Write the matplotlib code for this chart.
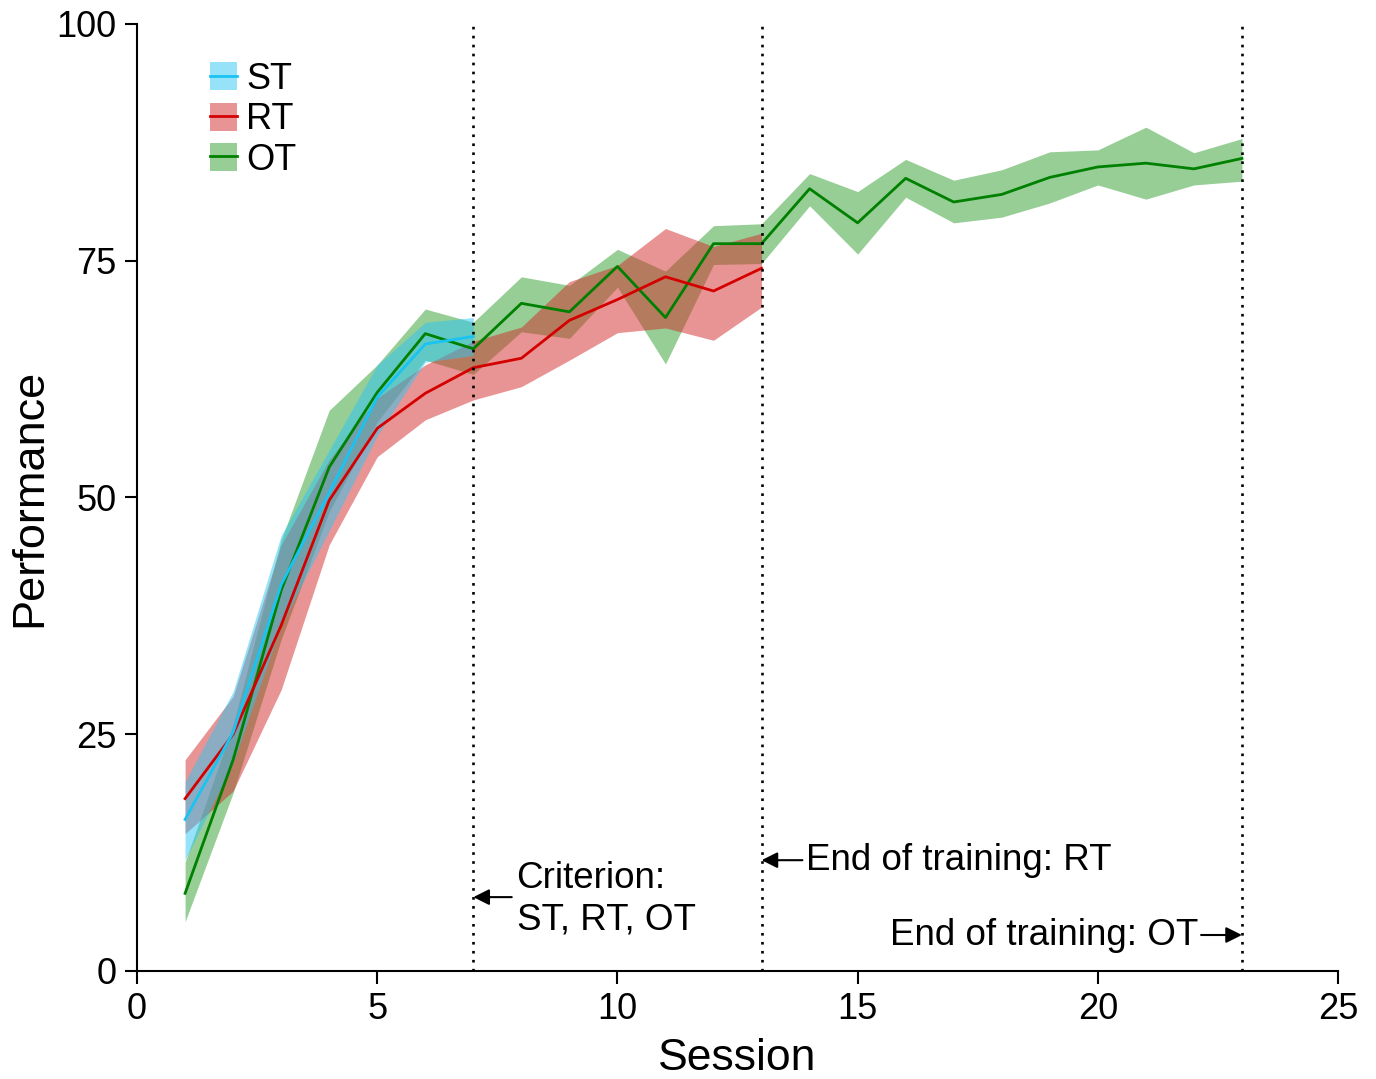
import matplotlib.pyplot as plt
from matplotlib.patches import Patch
from matplotlib.lines import Line2D

plt.rcParams['font.family'] = ['Liberation Sans', 'DejaVu Sans']

# ST: sesiones 1-7
st_sessions = [1, 2, 3, 4, 5, 6, 7]
st_mean = [16.0, 25.2, 40.8, 50.5, 60.6, 66.2, 67.0]
st_low = [11.7, 22.0, 36.5, 46.5, 56.5, 64.3, 65.0]
st_high = [20.0, 29.5, 46.0, 55.0, 64.0, 68.5, 69.0]

# RT: sesiones 1-13
rt_sessions = list(range(1, 14))
rt_mean = [18.2, 25.0, 36.5, 49.7, 57.3, 61.0, 63.7, 64.7, 68.7, 70.9, 73.3, 71.8, 74.2]
rt_low = [14.5, 19.0, 29.7, 45.0, 54.3, 58.2, 60.3, 61.7, 64.5, 67.4, 67.9, 66.6, 70.1]
rt_high = [22.3, 29.0, 45.0, 54.0, 60.5, 64.0, 66.5, 68.0, 72.8, 74.5, 78.4, 76.5, 77.9]

# OT: sesiones 1-23
ot_sessions = list(range(1, 24))
ot_mean = [8.2, 22.3, 40.2, 53.2, 61.1, 67.3, 65.7, 70.5, 69.6, 74.4, 69.0, 76.8,
           76.8, 82.6, 79.0, 83.7, 81.2, 82.0, 83.8, 84.9, 85.3, 84.7, 85.8]
ot_low = [5.2, 18.8, 35.0, 48.5, 58.0, 64.5, 63.0, 67.5, 66.8, 72.2, 64.1, 74.6,
          74.7, 80.8, 75.7, 81.7, 79.0, 79.6, 81.1, 83.0, 81.5, 83.0, 83.4]
ot_high = [11.5, 26.0, 45.5, 59.2, 64.0, 69.9, 68.5, 73.3, 72.4, 76.2, 73.9, 78.7,
           78.9, 84.2, 82.3, 85.7, 83.5, 84.6, 86.5, 86.7, 89.1, 86.4, 87.9]

# fin de cada fase
hitos = [7, 13, 23]

st_line, st_fill = '#19c3f2', '#2ec6f5'
rt_line, rt_fill = '#d40000', '#d42a2a'
ot_line, ot_fill = '#008000', '#2e9e2e'

fig = plt.figure(figsize=(13.76, 10.79), dpi=100)
ax = fig.add_axes([0.0996, 0.1001, 0.8728, 0.8777])

# orden: OT abajo, RT en medio, ST arriba
ax.fill_between(ot_sessions, ot_low, ot_high, color=ot_fill, alpha=0.5, lw=0)
ax.plot(ot_sessions, ot_mean, color=ot_line, lw=2)
ax.fill_between(rt_sessions, rt_low, rt_high, color=rt_fill, alpha=0.5, lw=0)
ax.plot(rt_sessions, rt_mean, color=rt_line, lw=2)
ax.fill_between(st_sessions, st_low, st_high, color=st_fill, alpha=0.5, lw=0)
ax.plot(st_sessions, st_mean, color=st_line, lw=2)

for h in hitos:
    ax.axvline(h, color='k', lw=1.9, linestyle=(0, (1, 2.4)))

ax.set_xlim(0, 25)
ax.set_ylim(0, 100)
ax.set_xticks([0, 5, 10, 15, 20, 25])
ax.set_yticks([0, 25, 50, 75, 100])
ax.tick_params(labelsize=26, length=9, width=1.5, direction='out', pad=6)
for s in ['top', 'right']:
    ax.spines[s].set_visible(False)
for s in ['left', 'bottom']:
    ax.spines[s].set_linewidth(1.5)

ax.set_xlabel('Session', fontsize=32)
ax.set_ylabel('Performance', fontsize=32.5)
ax.xaxis.set_label_coords(0.5, -0.0707)
ax.yaxis.set_label_coords(-0.072, 0.5)

# anotaciones
flecha = dict(arrowstyle='-|>', color='k', lw=1.5, mutation_scale=24, shrinkA=0, shrinkB=0)
ax.annotate('', xy=(7.0, 7.8), xytext=(7.8, 7.8), arrowprops=flecha)
ax.text(7.9, 7.6, 'Criterion:\nST, RT, OT', fontsize=26.5, ha='left', va='center', linespacing=1.25)
ax.annotate('', xy=(13.0, 11.7), xytext=(13.85, 11.7), arrowprops=flecha)
ax.text(13.93, 11.7, 'End of training: RT', fontsize=26.5, ha='left', va='center')
ax.annotate('', xy=(23.0, 3.8), xytext=(22.15, 3.8), arrowprops=flecha)
ax.text(22.1, 3.8, 'End of training: OT', fontsize=26.5, ha='right', va='center')

# leyenda
handles = [
    (Patch(facecolor=st_fill, alpha=0.5, lw=0), Line2D([], [], color=st_line, lw=2)),
    (Patch(facecolor=rt_fill, alpha=0.5, lw=0), Line2D([], [], color=rt_line, lw=2)),
    (Patch(facecolor=ot_fill, alpha=0.5, lw=0), Line2D([], [], color=ot_line, lw=2)),
]
ax.legend(handles, ['ST', 'RT', 'OT'], loc='upper left', bbox_to_anchor=(0.061, 0.96),
          frameon=False, fontsize=26, handlelength=0.75, handleheight=0.8,
          handletextpad=0.25, labelspacing=0.15, borderpad=0, borderaxespad=0)

fig.savefig('out.png', dpi=100)
